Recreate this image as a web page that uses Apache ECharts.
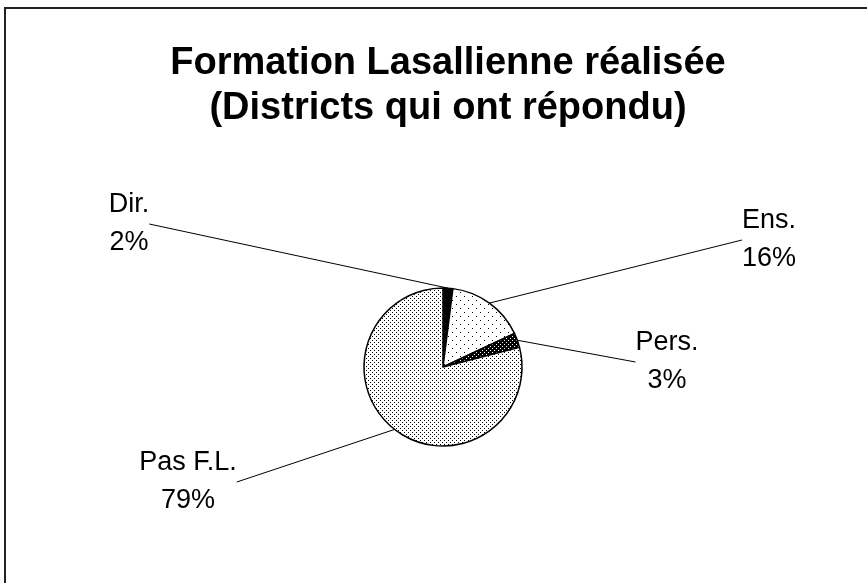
<!DOCTYPE html>
<html>
<head>
<meta charset="utf-8">
<script src="https://cdn.jsdelivr.net/npm/echarts@6/dist/echarts.min.js"></script>
<style>
  html, body { margin: 0; padding: 0; background: #fff; }
  #chart { width: 867px; height: 583px; }
</style>
</head>
<body>
<div id="chart"></div>
<script>
var categories = ['Dir.', 'Ens.', 'Pers.', 'Pas F.L.'];
var values = [2, 16, 3, 79];

// where each label block sits (centre)
var labelCenters = [[129, 224], [769, 240], [667, 362], [188, 482]];

// small bitmap fills standing in for the old Excel patterns
function makePattern(size, bg, fg, dots) {
    var c = document.createElement('canvas');
    c.width = size; c.height = size;
    var ctx = c.getContext('2d');
    ctx.fillStyle = bg;
    ctx.fillRect(0, 0, size, size);
    ctx.fillStyle = fg;
    dots.forEach(function (d) { ctx.fillRect(d[0], d[1], 1, 1); });
    return c;
}

var fills = [
    '#000',
    {image: makePattern(8, '#fff', '#000', [[0, 0], [4, 4]]), repeat: 'repeat'},
    {image: makePattern(4, '#000', '#fff', [[0, 0], [2, 2]]), repeat: 'repeat'},
    {image: makePattern(4, '#fff', '#000', [[0, 0], [2, 2]]), repeat: 'repeat'}
];

var chart = echarts.init(document.getElementById('chart'));

var option = {
    backgroundColor: '#fff',
    animation: false,
    title: {
        text: 'Formation Lasallienne réalisée\n(Districts qui ont répondu)',
        left: 443,
        textAlign: 'center',
        top: 36,
        textStyle: {
            fontFamily: 'Liberation Sans',
            fontWeight: 'bold',
            fontSize: 38,
            lineHeight: 45,
            color: '#000'
        }
    },
    graphic: [{
        type: 'rect',
        shape: {x: 5, y: 8, width: 900, height: 620},
        style: {fill: 'none', stroke: '#222', lineWidth: 2},
        silent: true
    }],
    series: [{
        type: 'pie',
        center: [443, 367],
        radius: 79,
        startAngle: 90,
        clockwise: true,
        data: categories.map(function (c, i) {
            return {name: c, value: values[i], itemStyle: {color: fills[i]}};
        }),
        itemStyle: {borderColor: '#000', borderWidth: 1.5},
        label: {
            show: true,
            position: 'outside',
            formatter: function (p) { return p.name + '\n' + p.value + '%'; },
            fontFamily: 'Liberation Sans',
            fontSize: 27,
            lineHeight: 38,
            color: '#000',
            align: 'center'
        },
        labelLine: {
            show: true,
            length: 5,
            length2: 0,
            smooth: false,
            lineStyle: {color: '#000', width: 1}
        },
        labelLayout: function (p) {
            var c = labelCenters[p.dataIndex];
            return {x: c[0], y: c[1], align: 'center', verticalAlign: 'middle'};
        }
    }]
};

chart.setOption(option);
</script>
</body>
</html>
